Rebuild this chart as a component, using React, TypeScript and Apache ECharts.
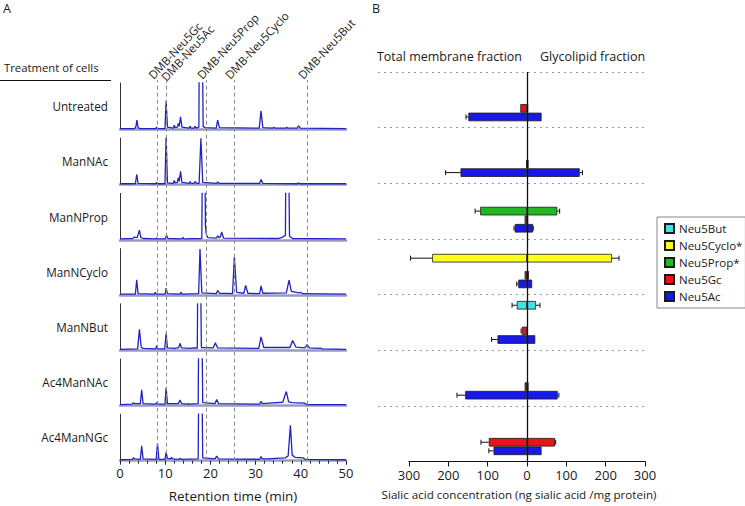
import React, { useEffect, useRef } from 'react';
import * as echarts from 'echarts';

// ---------- Panel A data ----------
const treatments = ['Untreated', 'ManNAc', 'ManNProp', 'ManNCyclo', 'ManNBut', 'Ac4ManNAc', 'Ac4ManNGc'];

const traceUntreated = [[0,0.02],[3.2,0.02],[3.5,0.05],[3.75,0.2],[4.0,0.04],[4.4,0.02],[7.9,0.02],[8.1,0.05],[8.3,0.02],[9.95,0.02],[10.2,0.61],[10.5,0.05],[11.8,0.03],[12.0,0.09],[12.2,0.04],[12.7,0.05],[12.9,0.13],[13.1,0.07],[13.4,0.27],[13.7,0.05],[15.3,0.03],[15.5,0.07],[15.7,0.03],[16.4,0.03],[16.6,0.07],[16.9,0.03],[17.45,0.05],[17.6,3],[18.1,3],[18.4,0.06],[18.9,0.04],[21.3,0.03],[21.6,0.2],[22.0,0.04],[30.8,0.03],[31.2,0.4],[31.6,0.04],[33.8,0.03],[34.0,0.05],[34.3,0.03],[36.7,0.03],[36.9,0.05],[37.1,0.03],[39.2,0.03],[39.5,0.08],[39.9,0.03],[50,0.02]];
const traceManNAc = [[0,0.02],[3.4,0.02],[3.7,0.22],[4.0,0.03],[7.9,0.02],[8.1,0.05],[8.3,0.02],[9.95,0.02],[10.2,1.05],[10.5,0.04],[11.8,0.03],[12.0,0.09],[12.2,0.04],[12.7,0.05],[12.9,0.15],[13.1,0.07],[13.4,0.29],[13.7,0.05],[15.3,0.03],[15.5,0.07],[15.7,0.03],[16.4,0.03],[16.6,0.07],[16.9,0.03],[17.5,0.03],[17.9,1.0],[18.3,0.05],[21.4,0.03],[21.6,0.06],[21.9,0.03],[30.9,0.03],[31.2,0.11],[31.6,0.03],[39.3,0.02],[39.5,0.04],[39.8,0.02],[50,0.02]];
const traceManNProp = [[0,0.02],[2.8,0.03],[3.2,0.06],[3.8,0.05],[4.3,0.21],[4.6,0.05],[5.2,0.03],[7.9,0.02],[8.1,0.04],[8.3,0.02],[10.0,0.02],[10.3,0.1],[10.6,0.03],[13.7,0.02],[13.9,0.05],[14.2,0.02],[18.1,0.03],[18.3,3],[18.7,3],[18.9,0.3],[19.1,0.12],[19.4,0.05],[21.4,0.04],[21.6,0.09],[21.9,0.05],[22.2,0.06],[22.5,0.17],[22.9,0.04],[35,0.03],[36.0,0.06],[36.6,0.1],[36.75,3],[37.2,3],[37.5,0.08],[38.2,0.03],[50,0.02]];
const traceManNCyclo = [[0,0.02],[3.4,0.02],[3.7,0.33],[4.0,0.03],[7.6,0.02],[7.8,0.06],[8.0,0.02],[10.0,0.02],[10.2,0.15],[10.5,0.03],[13.3,0.02],[13.5,0.06],[13.8,0.02],[17.4,0.03],[17.7,0.99],[18.1,0.05],[21.3,0.03],[21.6,0.1],[22.0,0.04],[24.9,0.03],[25.3,0.82],[25.8,0.06],[27.4,0.04],[27.8,0.21],[28.3,0.04],[30.9,0.03],[31.2,0.2],[31.6,0.04],[36.8,0.05],[37.4,0.32],[37.9,0.08],[39.5,0.05],[39.9,0.06],[40.4,0.03],[50,0.02]];
const traceManNBut = [[0,0.02],[3.9,0.03],[4.3,0.45],[4.7,0.06],[5.2,0.04],[7.9,0.03],[8.1,0.1],[8.3,0.03],[9.9,0.03],[10.2,0.36],[10.5,0.05],[12.1,0.04],[13.0,0.06],[13.3,0.15],[13.6,0.05],[15.5,0.04],[16.3,0.05],[17.1,0.05],[17.3,3],[17.7,3],[18.0,0.06],[20.6,0.05],[21.1,0.16],[21.6,0.05],[30.7,0.04],[31.2,0.29],[31.8,0.06],[37.6,0.06],[38.2,0.21],[38.9,0.07],[40.9,0.05],[41.4,0.12],[41.9,0.05],[44.0,0.04],[44.3,0.05],[44.7,0.03],[50,0.02]];
const traceAc4ManNAc = [[0,0.02],[2.7,0.03],[2.95,0.06],[3.3,0.04],[4.5,0.04],[4.8,0.34],[5.1,0.04],[7.9,0.03],[8.1,0.06],[8.3,0.03],[9.95,0.03],[10.2,0.38],[10.5,0.04],[12.9,0.04],[13.3,0.12],[13.6,0.04],[14.9,0.03],[15.1,0.04],[15.4,0.03],[17.3,0.04],[17.5,3],[18.0,3],[18.3,0.06],[21.0,0.04],[21.4,0.13],[21.8,0.04],[30.9,0.03],[31.2,0.09],[31.5,0.04],[33,0.05],[36.0,0.07],[36.8,0.3],[37.3,0.08],[38,0.06],[40.8,0.05],[41.3,0.02],[50,0.02]];
const traceAc4ManNGc = [[0,0.02],[2.7,0.03],[2.95,0.06],[3.3,0.04],[4.5,0.03],[4.8,0.32],[5.1,0.04],[8.0,0.03],[8.3,0.37],[8.6,0.03],[9.95,0.03],[10.2,0.18],[10.5,0.05],[11.2,0.04],[11.4,0.07],[11.7,0.04],[13.1,0.03],[13.3,0.05],[13.6,0.03],[17.3,0.04],[17.5,3],[18.0,3],[18.3,0.06],[21.0,0.04],[21.4,0.1],[21.8,0.04],[30.9,0.03],[31.2,0.09],[31.5,0.04],[32.5,0.04],[36.5,0.06],[37.2,0.1],[37.7,0.76],[38.1,0.12],[38.8,0.07],[40.5,0.06],[41.0,0.03],[50,0.02]];

const traces = [traceUntreated, traceManNAc, traceManNProp, traceManNCyclo, traceManNBut, traceAc4ManNAc, traceAc4ManNGc];

const markerTimes = [8.27, 10.2, 19.05, 25.25, 41.4];
const markerNames = ['DMB-Neu5Gc', 'DMB-Neu5Ac', 'DMB-Neu5Prop', 'DMB-Neu5Cyclo', 'DMB-Neu5But'];

// ---------- Panel B data ----------
const compounds = ['Neu5But', 'Neu5Cyclo*', 'Neu5Prop*', 'Neu5Gc', 'Neu5Ac'];
// total membrane fraction (plotted to the left)
const membraneNeu5But = [null, null, null, null, 26, null, null];
const membraneNeu5Cyclo = [null, null, null, 241, null, null, null];
const membraneNeu5Prop = [null, null, 119, null, null, null, null];
const membraneNeu5Gc = [17, 2, 6, 6, 13, 6, 97];
const membraneNeu5Ac = [149, 169, 31, 22, 75, 157, 85];
// glycolipid fraction (plotted to the right)
const glycoNeu5But = [null, null, null, null, 23, null, null];
const glycoNeu5Cyclo = [null, null, null, 216, null, null, null];
const glycoNeu5Prop = [null, null, 77, null, null, null, null];
const glycoNeu5Gc = [3, 4, 3, 5, 2, 4, 71];
const glycoNeu5Ac = [37, 134, 15, 13, 21, 78, 37];
// error bars (SD)
const membraneErrNeu5But = [0, 0, 0, 0, 12, 0, 0];
const membraneErrNeu5Cyclo = [0, 0, 0, 55, 0, 0, 0];
const membraneErrNeu5Prop = [0, 0, 13, 0, 0, 0, 0];
const membraneErrNeu5Gc = [0, 0, 0, 0, 2, 0, 20];
const membraneErrNeu5Ac = [6, 38, 2, 4, 15, 21, 12];
const glycoErrNeu5But = [0, 0, 0, 0, 10, 0, 0];
const glycoErrNeu5Cyclo = [0, 0, 0, 18, 0, 0, 0];
const glycoErrNeu5Prop = [0, 0, 6, 0, 0, 0, 0];
const glycoErrNeu5Gc = [0, 0, 0, 0, 0, 0, 2];
const glycoErrNeu5Ac = [0, 7, 1, 0, 0, 3, 0];
const concTicks = [-300, -200, -100, 0, 100, 200, 300];

const membrane = [membraneNeu5But, membraneNeu5Cyclo, membraneNeu5Prop, membraneNeu5Gc, membraneNeu5Ac];
const glyco = [glycoNeu5But, glycoNeu5Cyclo, glycoNeu5Prop, glycoNeu5Gc, glycoNeu5Ac];
const membraneErr = [membraneErrNeu5But, membraneErrNeu5Cyclo, membraneErrNeu5Prop, membraneErrNeu5Gc, membraneErrNeu5Ac];
const glycoErr = [glycoErrNeu5But, glycoErrNeu5Cyclo, glycoErrNeu5Prop, glycoErrNeu5Gc, glycoErrNeu5Ac];

const compoundColors = ['#3fe3e3', '#ffff1e', '#22b822', '#e8141a', '#1818e8'];

const FONT = 'Open Sans';
const TXT = '#1a1a1a';
const CAT_GAP = 0.23;
const A_WIDTH = 226;

function markerAxis(gridIndex: number, values: number[], margin: number) {
  return {
    gridIndex, type: 'value', min: 0, max: 50, position: 'top',
    axisLine: { show: false }, axisTick: { show: false }, splitLine: { show: false },
    axisLabel: {
      show: true, customValues: values, rotate: 47, margin, hideOverlap: false,
      fontSize: 11.5, color: TXT, fontFamily: FONT,
      formatter: (v: number) => {
        const k = markerTimes.findIndex((t) => Math.abs(t - v) < 1e-6);
        return k >= 0 ? markerNames[k] : '';
      },
    },
  };
}

function buildOption() {
  const grid: any[] = [];
  const xAxis: any[] = [];
  const yAxis: any[] = [];
  const series: any[] = [];

  traces.forEach((tr, i) => {
    const base = 129.5 + 55.2 * i;
    const last = i === traces.length - 1;
    grid.push({ left: 120, right: 745 - 120 - A_WIDTH, top: base - 46.5, height: 46.5, outerBoundsMode: 'none' });
    xAxis.push({
      gridIndex: i, type: 'value', min: 0, max: 50, interval: 10,
      axisLine: { show: true, onZero: false, lineStyle: { color: '#9a9ac4', width: 2.5 } },
      axisTick: { show: last, length: 4, lineStyle: { color: '#222' } },
      minorTick: { show: last, splitNumber: 5, length: 3, lineStyle: { color: '#222' } },
      axisLabel: { show: last, fontSize: 13, color: TXT, margin: 6, fontFamily: FONT },
      splitLine: { show: false },
      name: last ? 'Retention time (min)' : '',
      nameLocation: 'middle', nameGap: 28,
      nameTextStyle: { fontSize: 13.5, color: TXT, fontFamily: FONT },
    });
    yAxis.push({
      gridIndex: i, type: 'value', min: 0, max: 1,
      axisLine: { show: true, onZero: false, lineStyle: { color: '#333', width: 1 } },
      axisTick: { show: false }, axisLabel: { show: false }, splitLine: { show: false },
      name: treatments[i], nameLocation: 'middle', nameRotate: 0, nameGap: 12,
      nameTextStyle: { align: 'right', verticalAlign: 'middle', fontSize: 11.7, color: TXT, fontFamily: FONT },
    });
    series.push({
      type: 'line', name: treatments[i], xAxisIndex: i, yAxisIndex: i, data: tr,
      symbol: 'none', showSymbol: false, clip: true, z: 4,
      lineStyle: { color: '#2222c4', width: 1.3 },
    });
  });

  // grid 7: dashed reference lines at the standards' retention times
  grid.push({ left: 120, right: 745 - 120 - A_WIDTH, top: 80, bottom: 45.3, outerBoundsMode: 'none' });
  xAxis.push({ gridIndex: 7, type: 'value', min: 0, max: 50, show: false });
  yAxis.push({ gridIndex: 7, type: 'value', min: 0, max: 1, show: false });
  series.push({
    type: 'line', xAxisIndex: 7, yAxisIndex: 7, silent: true, z: 2, symbol: 'none',
    data: [], lineStyle: { opacity: 0 },
    markLine: {
      silent: true, symbol: 'none', label: { show: false },
      lineStyle: { color: '#8a8a8a', type: [4, 3], width: 1 },
      data: markerTimes.map((t) => ({ xAxis: t })),
    },
  });

  // ---------- Panel B (grid 8) ----------
  grid.push({ left: 409, right: 100, top: 72, height: 389.5, outerBoundsMode: 'none' });
  xAxis.push({
    gridIndex: 8, type: 'value', min: concTicks[0], max: concTicks[concTicks.length - 1], interval: 100,
    axisLine: { show: true, onZero: false, lineStyle: { color: '#111', width: 1.2 } },
    axisTick: { show: true, length: 5, lineStyle: { color: '#111' } },
    axisLabel: { fontSize: 13, color: TXT, margin: 7, fontFamily: FONT, formatter: (v: number) => String(Math.abs(v)) },
    splitLine: { show: false },
    name: 'Sialic acid concentration (ng sialic acid /mg protein)',
    nameLocation: 'middle', nameGap: 27,
    nameTextStyle: { fontSize: 11.6, color: TXT, fontFamily: FONT, padding: [0, 16, 0, 0] },
  });
  yAxis.push({
    gridIndex: 8, type: 'category', data: treatments, inverse: true,
    axisLine: { show: false, onZero: false }, axisTick: { show: false },
    axisLabel: { show: false }, splitLine: { show: false },
  });

  // grids 9 & 10: rotated labels of the standards (split so neighbouring labels are both kept)
  const mainLabels = markerTimes.filter((_, k) => k !== 1);
  const acLabel = markerTimes.filter((_, k) => k === 1);
  grid.push({ left: 113, right: 745 - 113 - A_WIDTH, top: 80, bottom: 45.3, outerBoundsMode: 'none' });
  xAxis.push(markerAxis(9, mainLabels, 3));
  yAxis.push({ gridIndex: 9, type: 'value', min: 0, max: 1, show: false });
  series.push({ type: 'line', xAxisIndex: 9, yAxisIndex: 9, silent: true, symbol: 'none', data: [], lineStyle: { opacity: 0 } });

  grid.push({ left: 117, right: 745 - 117 - A_WIDTH, top: 80, bottom: 45.3, outerBoundsMode: 'none' });
  xAxis.push(markerAxis(10, acLabel, 1));
  yAxis.push({ gridIndex: 10, type: 'value', min: 0, max: 1, show: false });
  series.push({ type: 'line', xAxisIndex: 10, yAxisIndex: 10, silent: true, symbol: 'none', data: [], lineStyle: { opacity: 0 } });

  // grid 11: dotted separators between treatments (extend left of panel B's axis)
  grid.push({ left: 378, right: 100, top: 72, height: 389.5, outerBoundsMode: 'none' });
  xAxis.push({ gridIndex: 11, type: 'value', min: 0, max: 1, show: false });
  yAxis.push({
    gridIndex: 11, type: 'category', data: treatments, inverse: true,
    axisLine: { show: false, onZero: false }, axisTick: { show: false }, axisLabel: { show: false },
    splitLine: { show: true, interval: 0, showMinLine: true, showMaxLine: false, lineStyle: { color: '#999', type: [2, 4] } },
  });
  series.push({ type: 'line', xAxisIndex: 11, yAxisIndex: 11, silent: true, symbol: 'none', data: [], lineStyle: { opacity: 0 } });

  compounds.forEach((c, k) => {
    const common = {
      type: 'bar', name: c, stack: 'st' + k, xAxisIndex: 8, yAxisIndex: 8,
      barCategoryGap: (CAT_GAP * 100) + '%', barGap: '0%',
      itemStyle: { color: compoundColors[k], borderColor: '#1a1a1a', borderWidth: 0.8 },
      z: 3,
    };
    series.push({ ...common, data: membrane[k].map((v) => (v == null ? null : -v)) });
    series.push({ ...common, data: glyco[k].map((v) => (v == null ? null : v)) });
  });

  // zero line
  series[series.length - 1].markLine = {
    silent: true, symbol: 'none', label: { show: false },
    lineStyle: { color: '#111', type: 'solid', width: 1.3 },
    data: [{ xAxis: 0 }],
  };

  const errData: any[] = [];
  compounds.forEach((c, k) => {
    treatments.forEach((t, ci) => {
      const m = membrane[k][ci];
      if (m != null && membraneErr[k][ci] > 0) errData.push([-m, ci, -membraneErr[k][ci], k]);
      const g = glyco[k][ci];
      if (g != null && glycoErr[k][ci] > 0) errData.push([g, ci, glycoErr[k][ci], k]);
    });
  });
  series.push({
    type: 'custom', xAxisIndex: 8, yAxisIndex: 8, silent: true, z: 5,
    encode: { x: 0, y: 1 },
    data: errData,
    renderItem: (params: any, api: any) => {
      const end = api.value(0);
      const cat = api.value(1);
      const err = api.value(2);
      const slot = api.value(3);
      const band = api.size([0, 1])[1];
      const w = (band * (1 - CAT_GAP)) / compounds.length;
      const yc = api.coord([0, cat])[1] + (slot - (compounds.length - 1) / 2) * w;
      const x1 = api.coord([end, cat])[0];
      const x2 = api.coord([end + err, cat])[0];
      const st = { stroke: '#111', lineWidth: 1 };
      return {
        type: 'group',
        children: [
          { type: 'line', shape: { x1, y1: yc, x2, y2: yc }, style: st },
          { type: 'line', shape: { x1: x2, y1: yc - 2.5, x2, y2: yc + 2.5 }, style: st },
        ],
      };
    },
  });

  return {
    animation: false,
    backgroundColor: '#ffffff',
    textStyle: { fontFamily: FONT },
    grid, xAxis, yAxis, series,
    legend: {
      orient: 'vertical', left: 657, top: 217, data: compounds,
      icon: 'rect', itemWidth: 9, itemHeight: 9, itemGap: 4,
      padding: [5, 3, 5, 7],
      borderColor: '#888', borderWidth: 1, backgroundColor: '#fff',
      textStyle: { fontSize: 11.5, lineHeight: 13, color: TXT, fontFamily: FONT },
    },
    graphic: [
      { type: 'text', left: 3, top: 2, style: { text: 'A', fontSize: 12.5, fill: TXT, fontFamily: FONT } },
      { type: 'text', left: 372, top: 2, style: { text: 'B', fontSize: 12.5, fill: TXT, fontFamily: FONT } },
      { type: 'text', left: 4, top: 62, style: { text: 'Treatment of cells', fontSize: 11.3, fill: TXT, fontFamily: FONT } },
      { type: 'line', shape: { x1: 0, y1: 80.5, x2: 111, y2: 80.5 }, style: { stroke: '#111', lineWidth: 1 } },
      { type: 'text', x: 522, y: 56, style: { text: 'Total membrane fraction', fontSize: 12.5, fill: TXT, fontFamily: FONT, align: 'right', verticalAlign: 'middle' } },
      { type: 'text', x: 540, y: 56, style: { text: 'Glycolipid fraction', fontSize: 12.5, fill: TXT, fontFamily: FONT, align: 'left', verticalAlign: 'middle' } },
    ],
  };
}

export default function App() {
  const ref = useRef<HTMLDivElement>(null);
  useEffect(() => {
    if (!ref.current) return;
    const chart = echarts.init(ref.current, null, { renderer: 'svg' });
    chart.setOption(buildOption() as any);
    return () => chart.dispose();
  }, []);
  return <div ref={ref} style={{ position: 'fixed', left: 0, top: 0, width: 745, height: 506, background: '#fff' }} />;
}
